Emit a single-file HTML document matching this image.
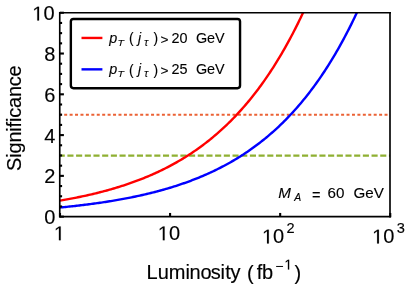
<!DOCTYPE html>
<html>
<head>
<meta charset="utf-8">
<title>Significance vs Luminosity</title>
<style>
html,body{margin:0;padding:0;background:#fff;}
body{width:409px;height:286px;overflow:hidden;font-family:"Liberation Sans",sans-serif;}
svg{display:block;will-change:transform;}
text{font-family:"Liberation Sans",sans-serif;fill:#000;}
.big text{stroke:#000;stroke-width:0.15px;}
.med text{stroke:#000;stroke-width:0.12px;}
</style>
</head>
<body>
<svg width="409" height="286" viewBox="0 0 409 286">
<rect x="0" y="0" width="409" height="286" fill="#ffffff"/>
<defs>
<clipPath id="plot"><rect x="60.0" y="12.75" width="330.25" height="203.90"/></clipPath>
</defs>

<!-- threshold lines and curves -->
<g clip-path="url(#plot)" fill="none">
<line x1="58.75" y1="114.8" x2="390.25" y2="114.8" stroke="#eb6235" stroke-width="2.0" stroke-dasharray="3 2.43"/>
<line x1="58.7" y1="155.65" x2="390.25" y2="155.65" stroke="#8fb032" stroke-width="2.2" stroke-dasharray="6.1 2.59"/>
<path d="M60.00 200.60 L61.38 200.37 L62.75 200.13 L64.13 199.89 L65.50 199.65 L66.88 199.40 L68.26 199.15 L69.63 198.90 L71.01 198.64 L72.38 198.38 L73.76 198.11 L75.14 197.85 L76.51 197.57 L77.89 197.30 L79.26 197.02 L80.64 196.73 L82.02 196.44 L83.39 196.15 L84.77 195.85 L86.14 195.55 L87.52 195.25 L88.90 194.94 L90.27 194.62 L91.65 194.30 L93.03 193.98 L94.40 193.65 L95.78 193.32 L97.15 192.98 L98.53 192.63 L99.91 192.29 L101.28 191.93 L102.66 191.57 L104.03 191.21 L105.41 190.84 L106.79 190.47 L108.16 190.09 L109.54 189.70 L110.91 189.31 L112.29 188.92 L113.67 188.51 L115.04 188.11 L116.42 187.69 L117.79 187.27 L119.17 186.85 L120.55 186.42 L121.92 185.98 L123.30 185.53 L124.67 185.08 L126.05 184.62 L127.43 184.16 L128.80 183.69 L130.18 183.21 L131.55 182.73 L132.93 182.23 L134.31 181.74 L135.68 181.23 L137.06 180.72 L138.43 180.20 L139.81 179.67 L141.19 179.13 L142.56 178.59 L143.94 178.04 L145.31 177.48 L146.69 176.91 L148.07 176.33 L149.44 175.75 L150.82 175.15 L152.19 174.55 L153.57 173.94 L154.95 173.32 L156.32 172.70 L157.70 172.06 L159.07 171.41 L160.45 170.76 L161.83 170.09 L163.20 169.42 L164.58 168.73 L165.96 168.04 L167.33 167.33 L168.71 166.62 L170.08 165.89 L171.46 165.16 L172.84 164.41 L174.21 163.65 L175.59 162.88 L176.96 162.11 L178.34 161.31 L179.72 160.51 L181.09 159.70 L182.47 158.87 L183.84 158.04 L185.22 157.19 L186.60 156.32 L187.97 155.45 L189.35 154.56 L190.72 153.66 L192.10 152.75 L193.48 151.82 L194.85 150.88 L196.23 149.93 L197.60 148.96 L198.98 147.98 L200.36 146.99 L201.73 145.98 L203.11 144.95 L204.48 143.91 L205.86 142.86 L207.24 141.79 L208.61 140.70 L209.99 139.60 L211.36 138.49 L212.74 137.35 L214.12 136.20 L215.49 135.04 L216.87 133.86 L218.24 132.66 L219.62 131.44 L221.00 130.20 L222.37 128.95 L223.75 127.68 L225.12 126.39 L226.50 125.08 L227.88 123.75 L229.25 122.41 L230.63 121.04 L232.01 119.65 L233.38 118.25 L234.76 116.82 L236.13 115.37 L237.51 113.91 L238.89 112.42 L240.26 110.91 L241.64 109.37 L243.01 107.82 L244.39 106.24 L245.77 104.64 L247.14 103.02 L248.52 101.37 L249.89 99.70 L251.27 98.00 L252.65 96.28 L254.02 94.54 L255.40 92.77 L256.77 90.97 L258.15 89.15 L259.53 87.30 L260.90 85.43 L262.28 83.53 L263.65 81.60 L265.03 79.64 L266.41 77.65 L267.78 75.64 L269.16 73.60 L270.53 71.52 L271.91 69.42 L273.29 67.28 L274.66 65.12 L276.04 62.92 L277.41 60.69 L278.79 58.43 L280.17 56.14 L281.54 53.81 L282.92 51.45 L284.29 49.06 L285.67 46.63 L287.05 44.16 L288.42 41.66 L289.80 39.13 L291.18 36.55 L292.55 33.94 L293.93 31.30 L295.30 28.61 L296.68 25.88 L298.06 23.12 L299.43 20.31 L300.81 17.47 L302.18 14.58 L303.56 11.65 L304.94 8.68 L306.31 5.66 L307.69 2.61 L309.06 -0.50 L310.44 -3.64 L311.82 -6.84 L313.19 -10.08 L314.57 -13.36 L315.94 -16.70 L317.32 -20.08" stroke="#ff0000" stroke-width="2.4" stroke-linejoin="round"/>
<path d="M60.00 207.51 L61.38 207.37 L62.75 207.24 L64.13 207.10 L65.50 206.96 L66.88 206.82 L68.26 206.68 L69.63 206.54 L71.01 206.39 L72.38 206.24 L73.76 206.09 L75.14 205.94 L76.51 205.78 L77.89 205.62 L79.26 205.46 L80.64 205.30 L82.02 205.14 L83.39 204.97 L84.77 204.80 L86.14 204.63 L87.52 204.46 L88.90 204.28 L90.27 204.10 L91.65 203.92 L93.03 203.73 L94.40 203.55 L95.78 203.36 L97.15 203.16 L98.53 202.97 L99.91 202.77 L101.28 202.57 L102.66 202.36 L104.03 202.16 L105.41 201.95 L106.79 201.73 L108.16 201.52 L109.54 201.30 L110.91 201.07 L112.29 200.85 L113.67 200.62 L115.04 200.39 L116.42 200.15 L117.79 199.91 L119.17 199.67 L120.55 199.42 L121.92 199.17 L123.30 198.92 L124.67 198.66 L126.05 198.40 L127.43 198.14 L128.80 197.87 L130.18 197.60 L131.55 197.32 L132.93 197.04 L134.31 196.76 L135.68 196.47 L137.06 196.18 L138.43 195.88 L139.81 195.58 L141.19 195.27 L142.56 194.96 L143.94 194.65 L145.31 194.33 L146.69 194.01 L148.07 193.68 L149.44 193.35 L150.82 193.01 L152.19 192.67 L153.57 192.32 L154.95 191.97 L156.32 191.61 L157.70 191.24 L159.07 190.88 L160.45 190.50 L161.83 190.12 L163.20 189.74 L164.58 189.35 L165.96 188.95 L167.33 188.55 L168.71 188.14 L170.08 187.73 L171.46 187.31 L172.84 186.89 L174.21 186.46 L175.59 186.02 L176.96 185.57 L178.34 185.12 L179.72 184.67 L181.09 184.20 L182.47 183.73 L183.84 183.26 L185.22 182.77 L186.60 182.28 L187.97 181.78 L189.35 181.28 L190.72 180.76 L192.10 180.24 L193.48 179.72 L194.85 179.18 L196.23 178.64 L197.60 178.09 L198.98 177.53 L200.36 176.96 L201.73 176.38 L203.11 175.80 L204.48 175.21 L205.86 174.61 L207.24 174.00 L208.61 173.38 L209.99 172.75 L211.36 172.12 L212.74 171.47 L214.12 170.82 L215.49 170.15 L216.87 169.48 L218.24 168.79 L219.62 168.10 L221.00 167.40 L222.37 166.68 L223.75 165.96 L225.12 165.22 L226.50 164.48 L227.88 163.72 L229.25 162.96 L230.63 162.18 L232.01 161.39 L233.38 160.59 L234.76 159.77 L236.13 158.95 L237.51 158.11 L238.89 157.26 L240.26 156.40 L241.64 155.53 L243.01 154.64 L244.39 153.75 L245.77 152.83 L247.14 151.91 L248.52 150.97 L249.89 150.02 L251.27 149.05 L252.65 148.07 L254.02 147.08 L255.40 146.07 L256.77 145.05 L258.15 144.01 L259.53 142.96 L260.90 141.89 L262.28 140.80 L263.65 139.71 L265.03 138.59 L266.41 137.46 L267.78 136.31 L269.16 135.15 L270.53 133.96 L271.91 132.77 L273.29 131.55 L274.66 130.32 L276.04 129.07 L277.41 127.80 L278.79 126.51 L280.17 125.20 L281.54 123.88 L282.92 122.53 L284.29 121.17 L285.67 119.78 L287.05 118.38 L288.42 116.95 L289.80 115.51 L291.18 114.04 L292.55 112.56 L293.93 111.05 L295.30 109.52 L296.68 107.96 L298.06 106.39 L299.43 104.79 L300.81 103.17 L302.18 101.52 L303.56 99.85 L304.94 98.16 L306.31 96.44 L307.69 94.70 L309.06 92.93 L310.44 91.14 L311.82 89.32 L313.19 87.47 L314.57 85.60 L315.94 83.70 L317.32 81.78 L318.70 79.82 L320.07 77.84 L321.45 75.83 L322.82 73.78 L324.20 71.71 L325.58 69.61 L326.95 67.48 L328.33 65.32 L329.70 63.12 L331.08 60.90 L332.46 58.64 L333.83 56.35 L335.21 54.03 L336.58 51.67 L337.96 49.28 L339.34 46.85 L340.71 44.39 L342.09 41.89 L343.46 39.36 L344.84 36.79 L346.22 34.18 L347.59 31.54 L348.97 28.86 L350.34 26.13 L351.72 23.37 L353.10 20.57 L354.47 17.73 L355.85 14.85 L357.23 11.92 L358.60 8.95 L359.98 5.94 L361.35 2.89 L362.73 -0.21 L364.11 -3.35 L365.48 -6.54 L366.86 -9.78 L368.23 -13.06 L369.61 -16.39 L370.99 -19.77" stroke="#0000ff" stroke-width="2.4" stroke-linejoin="round"/>
</g>

<!-- frame -->
<g stroke="#000" fill="none" stroke-linecap="square">
<line x1="59.75" y1="12.75" x2="59.75" y2="216.65" stroke-width="1.65"/>
<line x1="390.0" y1="12.75" x2="390.0" y2="216.65" stroke-width="1.65"/>
<line x1="60.0" y1="12.75" x2="390.25" y2="12.75" stroke-width="1.5"/>
<line x1="60.0" y1="216.65" x2="390.25" y2="216.65" stroke-width="1.8"/>
</g>
<g stroke="#000" stroke-width="2.1" fill="none">
<line x1="60.00" y1="216.65" x2="63.90" y2="216.65"/>
<line x1="60.00" y1="206.46" x2="62.10" y2="206.46"/>
<line x1="60.00" y1="196.26" x2="62.10" y2="196.26"/>
<line x1="60.00" y1="186.06" x2="62.10" y2="186.06"/>
<line x1="60.00" y1="175.87" x2="63.90" y2="175.87"/>
<line x1="60.00" y1="165.68" x2="62.10" y2="165.68"/>
<line x1="60.00" y1="155.48" x2="62.10" y2="155.48"/>
<line x1="60.00" y1="145.28" x2="62.10" y2="145.28"/>
<line x1="60.00" y1="135.09" x2="63.90" y2="135.09"/>
<line x1="60.00" y1="124.90" x2="62.10" y2="124.90"/>
<line x1="60.00" y1="114.70" x2="62.10" y2="114.70"/>
<line x1="60.00" y1="104.50" x2="62.10" y2="104.50"/>
<line x1="60.00" y1="94.31" x2="63.90" y2="94.31"/>
<line x1="60.00" y1="84.12" x2="62.10" y2="84.12"/>
<line x1="60.00" y1="73.92" x2="62.10" y2="73.92"/>
<line x1="60.00" y1="63.72" x2="62.10" y2="63.72"/>
<line x1="60.00" y1="53.53" x2="63.90" y2="53.53"/>
<line x1="60.00" y1="43.34" x2="62.10" y2="43.34"/>
<line x1="60.00" y1="33.14" x2="62.10" y2="33.14"/>
<line x1="60.00" y1="22.94" x2="62.10" y2="22.94"/>
<line x1="60.00" y1="12.75" x2="63.90" y2="12.75"/>
<line x1="60.00" y1="216.65" x2="60.00" y2="212.95"/>
<line x1="170.08" y1="216.65" x2="170.08" y2="212.95"/>
<line x1="280.17" y1="216.65" x2="280.17" y2="212.95"/>
<line x1="390.25" y1="216.65" x2="390.25" y2="212.95"/>
</g>

<!-- legend -->
<rect x="70.85" y="19.0" width="169.2" height="69.2" rx="2.6" ry="2.6" fill="#fff" stroke="#000" stroke-width="2.4"/>
<line x1="81.5" y1="37.95" x2="102.4" y2="37.95" stroke="#ff0000" stroke-width="2.4"/>
<line x1="81.5" y1="69.35" x2="102.4" y2="69.35" stroke="#0000ff" stroke-width="2.4"/>
<g font-size="14.4px" class="med">
<text x="109.2" y="42.80" font-style="italic">p</text>
<text x="117.6" y="45.80" font-style="italic" font-size="9.2px" textLength="6.5" lengthAdjust="spacingAndGlyphs">T</text>
<text x="129.0" y="43.10" font-size="13.8px">(</text>
<text x="138.0" y="42.70" font-style="italic" font-size="14px">j</text>
<text x="144.3" y="45.80" font-style="italic" font-size="10.4px">τ</text>
<text x="153.5" y="43.10" font-size="13.8px">)</text>
<text x="160.4" y="43.70" font-size="13.6px">&gt;</text>
<text x="171.5" y="42.80">20</text>
<text x="195.9" y="42.80">GeV</text>
<text x="109.2" y="74.40" font-style="italic">p</text>
<text x="117.6" y="77.40" font-style="italic" font-size="9.2px" textLength="6.5" lengthAdjust="spacingAndGlyphs">T</text>
<text x="129.0" y="74.70" font-size="13.8px">(</text>
<text x="138.0" y="74.30" font-style="italic" font-size="14px">j</text>
<text x="144.3" y="77.40" font-style="italic" font-size="10.4px">τ</text>
<text x="153.5" y="74.70" font-size="13.8px">)</text>
<text x="160.4" y="75.30" font-size="13.6px">&gt;</text>
<text x="171.5" y="74.40">25</text>
<text x="195.9" y="74.40">GeV</text>
</g>

<!-- annotation -->
<g font-size="15.2px" class="med">
<text x="278.2" y="198.3" font-style="italic">M</text>
<text x="294.2" y="201.3" font-style="italic" font-size="10.4px">A</text>
<text x="311.9" y="199.6" font-size="14.6px">=</text>
<text x="327.6" y="198.3">60</text>
<text x="353.5" y="198.3">GeV</text>
</g>

<!-- y tick labels -->
<g font-size="20px" class="big">
<text x="55.3" y="224.25" text-anchor="end">0</text>
<text x="55.3" y="183.47" text-anchor="end">2</text>
<text x="55.3" y="142.69" text-anchor="end">4</text>
<text x="55.3" y="101.91" text-anchor="end">6</text>
<text x="55.3" y="61.13" text-anchor="end">8</text>
<path transform="translate(32.26 20.45) scale(0.009766 -0.009766)" d="M515 0V1237L197 1010V1180L530 1409H696V0Z" stroke="#000" stroke-width="15.4"/><text x="54.5" y="20.45" text-anchor="end">0</text>
</g>

<!-- x tick labels -->
<g font-size="20px" class="big">
<path transform="translate(53.90 240.20) scale(0.009766 -0.009766)" d="M515 0V1237L197 1010V1180L530 1409H696V0Z" stroke="#000" stroke-width="15.4"/>
<path transform="translate(157.80 240.20) scale(0.009766 -0.009766)" d="M515 0V1237L197 1010V1180L530 1409H696V0Z" stroke="#000" stroke-width="15.4"/><text x="168.92" y="240.2">0</text>
<path transform="translate(262.00 243.40) scale(0.009766 -0.009766)" d="M515 0V1237L197 1010V1180L530 1409H696V0Z" stroke="#000" stroke-width="15.4"/><text x="273.12" y="243.4">0</text>
<text x="286.6" y="232.7" font-size="14.6px">2</text>
<path transform="translate(372.10 243.40) scale(0.009766 -0.009766)" d="M515 0V1237L197 1010V1180L530 1409H696V0Z" stroke="#000" stroke-width="15.4"/><text x="383.22" y="243.4">0</text>
<text x="396.8" y="232.7" font-size="14.6px">3</text>
</g>

<!-- axis labels -->
<g font-size="20px" class="big">
<text x="146.5" y="279.4" dx="0 0 0 0 -0.3 -0.1 -1.1 -0.25 0.45 -0.3">Luminosity</text>
<text x="247.1" y="280.0">(</text>
<text x="256.8" y="279.4" dx="0 -0.4">fb</text>
<text x="275.2" y="271.3" font-size="14px">−</text>
<path transform="translate(284.40 269.40) scale(0.006836 -0.006836)" d="M515 0V1237L197 1010V1180L530 1409H696V0Z" stroke="#000" stroke-width="21.9"/>
<text x="294.4" y="280.0">)</text>
<text transform="translate(21.3 170.9) rotate(-90)" x="0" y="0" letter-spacing="-0.2">Significance</text>
</g>
</svg>
</body>
</html>
